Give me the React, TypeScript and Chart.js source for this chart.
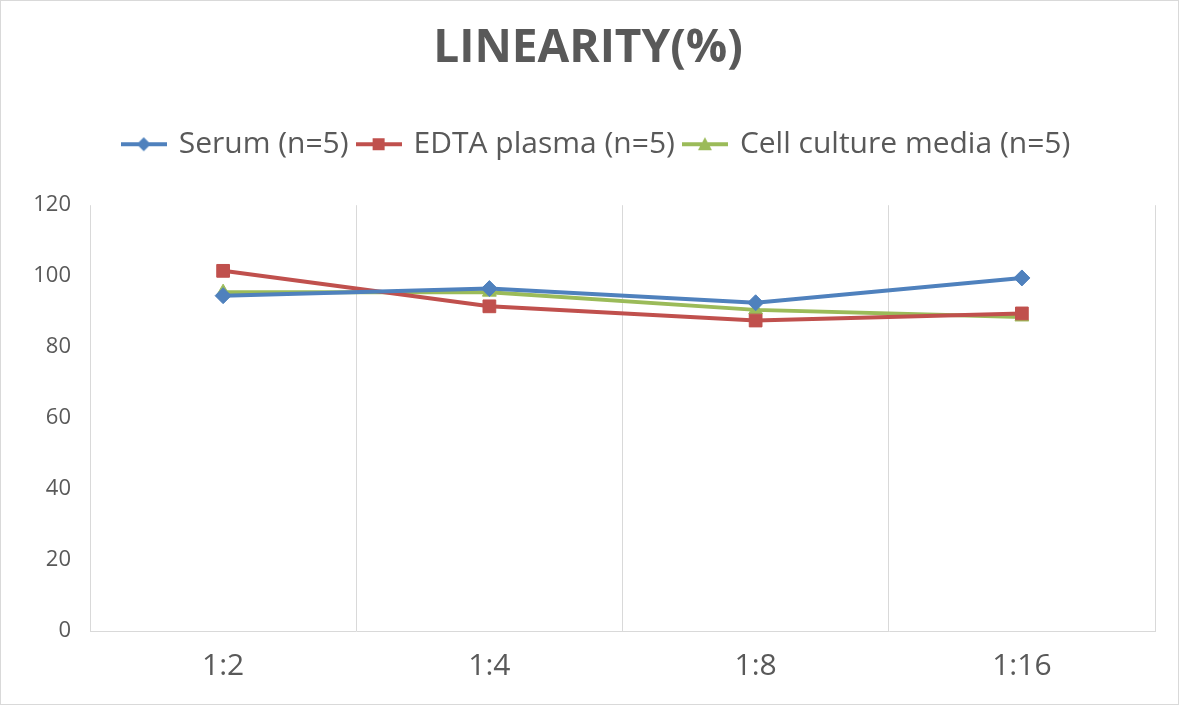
import { useEffect, useRef } from "react";
import { Chart, registerables } from "chart.js";

Chart.register(...registerables);

const categories = ["1:2", "1:4", "1:8", "1:16"];
const serum = [94.5, 96.5, 92.5, 99.5];
const edtaPlasma = [101.5, 91.5, 87.5, 89.5];
const cellCulture = [95.5, 95.5, 90.5, 88.5];
const yTicks = [0, 20, 40, 60, 80, 100, 120];

const TEXT = "#595959";
const GRID = "#d9d9d9";
const FONT = "'Open Sans', 'Noto Sans', sans-serif";
const LEGEND_EXTRA = 36;
const TITLE_SHIFT = 10;
const LEGEND_SHIFT = 19;

function legendIcon(color: string, style: string) {
  const c = document.createElement("canvas");
  c.width = 46;
  c.height = 18;
  const ctx = c.getContext("2d")!;
  ctx.strokeStyle = color;
  ctx.lineWidth = 4;
  ctx.beginPath();
  ctx.moveTo(0, 9);
  ctx.lineTo(46, 9);
  ctx.stroke();
  ctx.fillStyle = color;
  ctx.beginPath();
  if (style === "rectRot") {
    ctx.moveTo(23, 2);
    ctx.lineTo(30, 9);
    ctx.lineTo(23, 16);
    ctx.lineTo(16, 9);
  } else if (style === "rect") {
    ctx.rect(17, 3, 12, 12);
  } else {
    ctx.moveTo(23, 2);
    ctx.lineTo(30, 15);
    ctx.lineTo(16, 15);
  }
  ctx.closePath();
  ctx.fill();
  return c;
}

// extra room under the legend, and title/legend nudged sideways like the original
const headerTweak = {
  id: "headerTweak",
  afterInit(chart: any) {
    const legend = chart.legend;
    if (!legend || legend._gapped) return;
    const fit = legend.fit;
    legend.fit = function () {
      fit.call(this);
      this.height += LEGEND_EXTRA;
    };
    legend._gapped = true;
  },
  afterLayout(chart: any) {
    if (chart.titleBlock) {
      chart.titleBlock.left += TITLE_SHIFT;
      chart.titleBlock.right += TITLE_SHIFT;
    }
    if (chart.legend) {
      chart.legend.left += LEGEND_SHIFT;
      chart.legend.right += LEGEND_SHIFT;
    }
  },
};

export default function App() {
  const ref = useRef<HTMLCanvasElement>(null);

  useEffect(() => {
    document.body.style.margin = "0";
    if (!ref.current) return;
    const series = [
      { label: "Serum (n=5)", data: serum, color: "#4f81bd", style: "rectRot", r: 8 },
      { label: "EDTA plasma (n=5)", data: edtaPlasma, color: "#c0504d", style: "rect", r: 9 },
      { label: "Cell culture media (n=5)", data: cellCulture, color: "#9bbb59", style: "triangle", r: 8 },
    ];
    const chart = new Chart(ref.current, {
      type: "line",
      data: {
        labels: categories,
        datasets: series.map((s) => ({
          label: s.label,
          data: s.data,
          borderColor: s.color,
          backgroundColor: s.color,
          borderWidth: 4,
          pointStyle: s.style as any,
          pointRadius: s.r,
          pointBorderWidth: 1,
          tension: 0,
        })),
      },
      plugins: [headerTweak],
      options: {
        responsive: false,
        animation: false,
        layout: { padding: { top: 0, left: 0, right: 23, bottom: 0 } },
        plugins: {
          tooltip: { enabled: false },
          title: {
            display: true,
            text: "LINEARITY(%)",
            color: TEXT,
            font: { family: FONT, size: 46, weight: "bold" },
            padding: { top: 20, bottom: 43 },
          },
          legend: {
            labels: {
              color: TEXT,
              font: { family: FONT, size: 30 },
              usePointStyle: true,
              pointStyleWidth: 40,
              padding: 10,
              generateLabels: () =>
                series.map((s, i) => ({
                  text: s.label,
                  fontColor: TEXT,
                  datasetIndex: i,
                  pointStyle: legendIcon(s.color, s.style),
                  lineWidth: 0,
                  strokeStyle: s.color,
                  fillStyle: s.color,
                })),
            },
          },
        },
        scales: {
          x: {
            offset: true,
            afterFit: (scale: any) => {
              scale.height = 73;
            },
            grid: { offset: true, color: GRID, drawTicks: false, lineWidth: 1 },
            border: { color: GRID },
            ticks: { color: TEXT, font: { family: FONT, size: 30 }, padding: 17 },
          },
          y: {
            min: yTicks[0],
            max: yTicks[yTicks.length - 1],
            afterFit: (scale: any) => {
              scale.width = 89;
            },
            afterBuildTicks: (scale: any) => {
              scale.ticks = yTicks.map((v) => ({ value: v }));
            },
            ticks: { color: TEXT, font: { family: FONT, size: 22 }, padding: 11 },
            grid: { display: false },
            border: { display: false },
          },
        },
      },
    });
    return () => chart.destroy();
  }, []);

  return (
    <div style={{ width: 1179, height: 705, boxSizing: "border-box", border: "1px solid #d9d9d9", background: "#fff" }}>
      <canvas ref={ref} width={1177} height={703} style={{ display: "block" }} />
    </div>
  );
}
